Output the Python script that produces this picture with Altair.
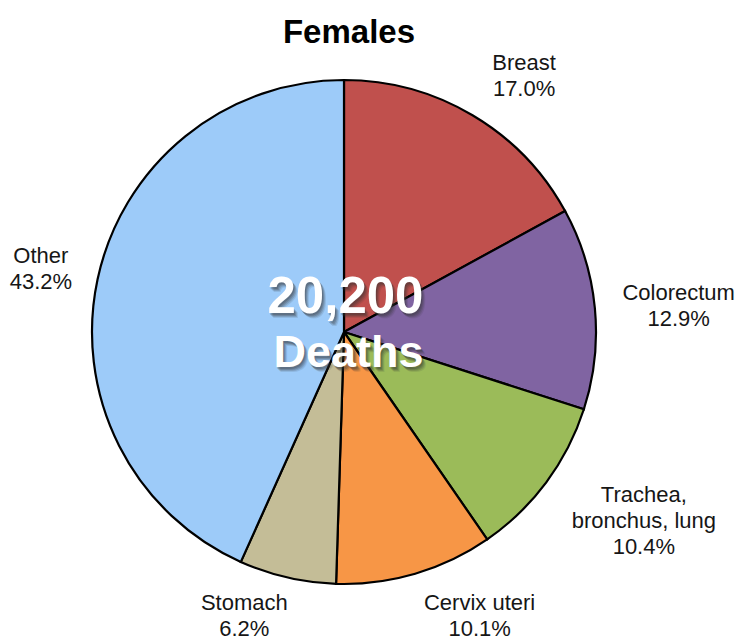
import altair as alt
import pandas as pd

# Cancer deaths among females, share by site
sites = ["Breast", "Colorectum", "Trachea, bronchus, lung", "Cervix uteri", "Stomach", "Other"]
shares = [17.0, 12.9, 10.4, 10.1, 6.2, 43.2]
label_names = ["Breast", "Colorectum", "Trachea,\nbronchus, lung", "Cervix uteri", "Stomach", "Other"]
colors = ["#c0504d", "#8064a2", "#9bbb59", "#f79646", "#c4bd97", "#9dcbf9"]

total_deaths = "20,200"

# label nudges (dx, dy) from the slice mid-angle anchor to the first text line
label_nudge = {
    "Breast": (22, -2),
    "Colorectum": (26, -10),
    "Trachea, bronchus, lung": (51, -22),
    "Cervix uteri": (48, -26),
    "Stomach": (-30, -31),
    "Other": (0, -11),
}

FONT = "Liberation Sans"
OUTER_R = 252
LABEL_R = 310

df = pd.DataFrame({
    "idx": list(range(len(sites))),
    "site": sites,
    "share": shares,
    "label": [f"{n}\n{s:.1f}%" for n, s in zip(label_names, shares)],
})

base = (
    alt.Chart(df)
    .transform_window(cum="sum(share)", sort=[alt.SortField("idx")], frame=[None, 0])
    .transform_joinaggregate(total="sum(share)")
    .transform_calculate(
        start="2*PI*(datum.cum - datum.share)/datum.total",
        end="2*PI*datum.cum/datum.total",
        mid="2*PI*(datum.cum - datum.share/2)/datum.total",
    )
)

arcs = base.mark_arc(outerRadius=OUTER_R, stroke="black", strokeWidth=2.2).encode(
    theta=alt.Theta("start:Q", scale=None),
    theta2="end:Q",
    color=alt.Color("site:N", scale=alt.Scale(domain=sites, range=colors), legend=None),
)

labels = []
for site in sites:
    dx, dy = label_nudge[site]
    labels.append(
        base.transform_filter(alt.datum.site == site)
        .mark_text(
            radius=LABEL_R, dx=dx, dy=dy, font=FONT, fontSize=22,
            lineBreak="\n", lineHeight=26, align="center", baseline="middle", color="#161616",
        )
        .encode(theta=alt.Theta("mid:Q", scale=None), text="label:N")
    )

# centre annotation: white bold text with a soft drop shadow
centre = alt.Chart(pd.DataFrame({"a": [total_deaths], "b": ["Deaths"]}))
centre_layers = []
for text_field, size, dx, dy in [("a", 51, 1.5, -34), ("b", 45, 4.5, 20.5)]:
    for sx, sy, op in [(4, 5, 0.12), (3, 4, 0.18), (2, 3, 0.22), (1, 2, 0.25)]:
        centre_layers.append(
            centre.mark_text(
                font=FONT, fontSize=size, fontWeight="bold", color="#333333",
                opacity=op, dx=dx + sx, dy=dy + sy, align="center", baseline="middle",
            ).encode(text=f"{text_field}:N")
        )
    centre_layers.append(
        centre.mark_text(
            font=FONT, fontSize=size, fontWeight="bold", color="white",
            dx=dx, dy=dy, align="center", baseline="middle",
        ).encode(text=f"{text_field}:N")
    )

chart = (
    alt.layer(arcs, *labels, *centre_layers)
    .properties(
        width=688,
        height=544,
        title=alt.TitleParams(
            "Females", font=FONT, fontSize=33, fontWeight="bold", color="black",
            anchor="middle", dx=5, offset=2,
        ),
        padding={"left": 0, "top": 60, "right": 49, "bottom": 32},
        autosize=alt.AutoSizeParams(type="none"),
    )
    .configure_view(stroke=None)
    .configure(background="white")
)

chart.save("out.html", embed_options={"renderer": "svg", "actions": False})
